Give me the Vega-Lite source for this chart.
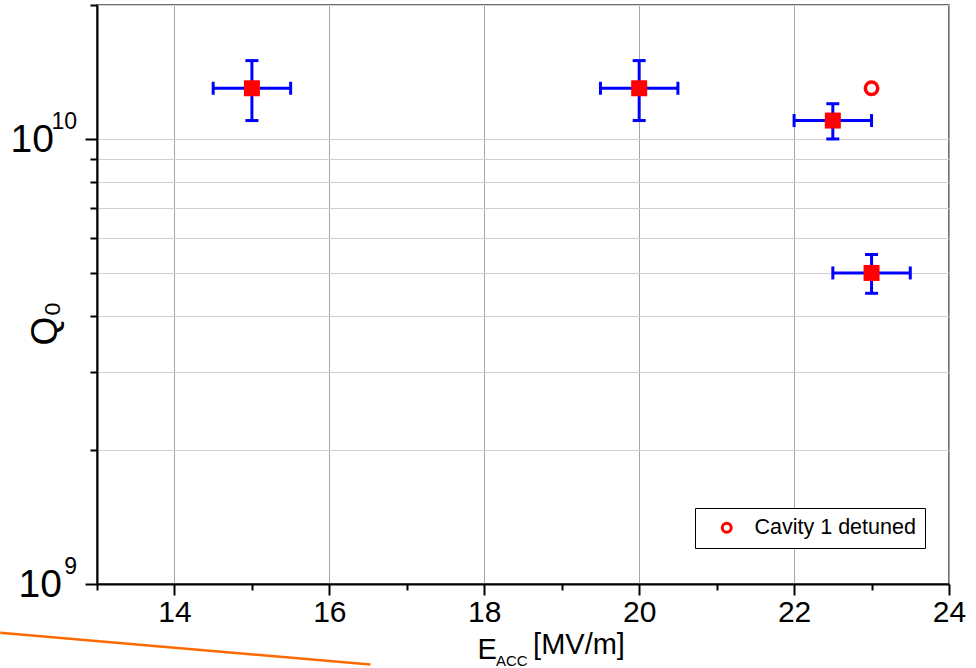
{
  "$schema": "https://vega.github.io/schema/vega-lite/v6.json",
  "autosize": {"type": "none"},
  "padding": {"left": 97, "top": 5, "right": 27, "bottom": 84},
  "width": 852,
  "height": 579,
  "background": "white",
  "config": {
    "font": "Liberation Sans",
    "view": {"stroke": "#404040", "strokeWidth": 1.5}
  },
  "resolve": {"axis": {"x": "independent", "y": "independent"}},
  "data": {
    "values": [
      {"E": 15, "Q": 1.3e10, "E_lo": 14.5, "E_hi": 15.5, "Q_lo": 1.1e10, "Q_hi": 1.5e10},
      {"E": 20, "Q": 1.3e10, "E_lo": 19.5, "E_hi": 20.5, "Q_lo": 1.1e10, "Q_hi": 1.5e10},
      {"E": 22.5, "Q": 1.1e10, "E_lo": 22, "E_hi": 23, "Q_lo": 1.0e10, "Q_hi": 1.2e10},
      {"E": 23, "Q": 5.0e9, "E_lo": 22.5, "E_hi": 23.5, "Q_lo": 4.5e9, "Q_hi": 5.5e9}
    ]
  },
  "layer": [
    {
      "mark": {"type": "square", "size": 10, "opacity": 0},
      "encoding": {
        "x": {
          "field": "E", "type": "quantitative",
          "scale": {"domain": [13, 24], "nice": false, "zero": false},
          "axis": {
            "orient": "bottom",
            "title": null,
            "values": [13, 15, 17, 19, 21, 23],
            "labels": false, "domain": false, "grid": false,
            "tickColor": "black", "tickWidth": 2, "tickSize": 6
          }
        },
        "y": {
          "field": "Q", "type": "quantitative",
          "scale": {"type": "log", "domain": [1e9, 2e10], "nice": false},
          "axis": {
            "orient": "left",
            "title": null,
            "values": [2e9, 3e9, 4e9, 5e9, 6e9, 7e9, 8e9, 9e9, 2e10],
            "labels": false, "domain": false,
            "grid": true, "gridColor": "#d0d0d0", "gridWidth": 1,
            "tickColor": "black", "tickWidth": 2, "tickSize": 7
          }
        }
      }
    },
    {
      "mark": {"type": "square", "size": 10, "opacity": 0},
      "encoding": {
        "x": {
          "field": "E", "type": "quantitative",
          "axis": {
            "orient": "bottom",
            "title": "E",
            "values": [14, 16, 18, 20, 22, 24],
            "labelFontSize": 30, "labelColor": "black", "labelPadding": 2,
            "labelFlush": false, "labelOverlap": false,
            "tickColor": "black", "tickWidth": 2, "tickSize": 11,
            "domainColor": "black", "domainWidth": 2,
            "grid": true, "gridColor": "#a6a6a6", "gridWidth": 1,
            "titleFontSize": 29, "titleFontWeight": "normal", "titleColor": "black",
            "titleAlign": "left", "titleBaseline": "alphabetic", "titleX": 380, "titleY": 74
          }
        },
        "y": {
          "field": "Q", "type": "quantitative",
          "axis": {
            "orient": "left",
            "title": "Q\u2080",
            "values": [1e9, 1e10],
            "labels": false,
            "tickColor": "black", "tickWidth": 2, "tickSize": 12,
            "domainColor": "black", "domainWidth": 2,
            "grid": true, "gridColor": "#d0d0d0", "gridWidth": 1,
            "titleFontSize": 37, "titleFontWeight": "normal", "titleColor": "black",
            "titleAngle": -90, "titleAlign": "center", "titleBaseline": "middle",
            "titleX": -52, "titleY": 318
          }
        }
      }
    },
    {
      "data": {"values": [{"E": 13, "Q": 1e10, "t": "10"}]},
      "mark": {"type": "text", "fontSize": 39, "align": "right", "baseline": "middle", "dx": -43, "dy": 1, "color": "black", "clip": false},
      "encoding": {
        "x": {"field": "E", "type": "quantitative", "axis": null},
        "y": {"field": "Q", "type": "quantitative", "axis": null},
        "text": {"field": "t"}
      }
    },
    {
      "data": {"values": [{"E": 13, "Q": 1e9, "t": "10"}]},
      "mark": {"type": "text", "fontSize": 39, "align": "right", "baseline": "middle", "dx": -35, "dy": 1, "color": "black", "clip": false},
      "encoding": {
        "x": {"field": "E", "type": "quantitative", "axis": null},
        "y": {"field": "Q", "type": "quantitative", "axis": null},
        "text": {"field": "t"}
      }
    },
    {
      "data": {"values": [{"E": 13, "Q": 1e10, "t": "10"}, {"E": 13, "Q": 1e9, "t": "9"}]},
      "mark": {"type": "text", "fontSize": 23, "align": "right", "baseline": "middle", "dx": -20, "dy": -17, "color": "black", "clip": false},
      "encoding": {
        "x": {"field": "E", "type": "quantitative", "axis": null},
        "y": {"field": "Q", "type": "quantitative", "axis": null},
        "text": {"field": "t"}
      }
    },
    {
      "data": {"values": [{"E": 11.75, "Q": 7.77e8}, {"E": 16.53, "Q": 6.59e8}]},
      "mark": {"type": "line", "color": "#ff6a00", "strokeWidth": 2.5, "clip": false},
      "encoding": {
        "x": {"field": "E", "type": "quantitative", "axis": null},
        "y": {"field": "Q", "type": "quantitative", "axis": null}
      }
    },
    {
      "data": {"values": [{"E": 18.15, "Q": 6.53e8, "txt": "ACC"}]},
      "mark": {"type": "text", "fontSize": 15, "align": "left", "baseline": "alphabetic", "color": "black", "clip": false},
      "encoding": {
        "x": {"field": "E", "type": "quantitative", "axis": null},
        "y": {"field": "Q", "type": "quantitative", "axis": null},
        "text": {"field": "txt"}
      }
    },
    {
      "data": {"values": [{"E": 18.63, "Q": 6.95e8, "txt": "[MV/m]"}]},
      "mark": {"type": "text", "fontSize": 29, "align": "left", "baseline": "alphabetic", "color": "black", "clip": false},
      "encoding": {
        "x": {"field": "E", "type": "quantitative", "axis": null},
        "y": {"field": "Q", "type": "quantitative", "axis": null},
        "text": {"field": "txt"}
      }
    },
    {
      "mark": {"type": "rule", "color": "#0000ff", "strokeWidth": 3},
      "encoding": {
        "x": {"field": "E_lo", "type": "quantitative", "axis": null},
        "x2": {"field": "E_hi"},
        "y": {"field": "Q", "type": "quantitative", "axis": null}
      }
    },
    {
      "mark": {"type": "rule", "color": "#0000ff", "strokeWidth": 3},
      "encoding": {
        "x": {"field": "E", "type": "quantitative", "axis": null},
        "y": {"field": "Q_lo", "type": "quantitative", "axis": null},
        "y2": {"field": "Q_hi"}
      }
    },
    {
      "mark": {"type": "tick", "orient": "vertical", "color": "#0000ff", "size": 13, "thickness": 3, "opacity": 1},
      "encoding": {
        "x": {"field": "E_lo", "type": "quantitative", "axis": null},
        "y": {"field": "Q", "type": "quantitative", "axis": null}
      }
    },
    {
      "mark": {"type": "tick", "orient": "vertical", "color": "#0000ff", "size": 13, "thickness": 3, "opacity": 1},
      "encoding": {
        "x": {"field": "E_hi", "type": "quantitative", "axis": null},
        "y": {"field": "Q", "type": "quantitative", "axis": null}
      }
    },
    {
      "mark": {"type": "tick", "orient": "horizontal", "color": "#0000ff", "size": 13, "thickness": 3, "opacity": 1},
      "encoding": {
        "x": {"field": "E", "type": "quantitative", "axis": null},
        "y": {"field": "Q_lo", "type": "quantitative", "axis": null}
      }
    },
    {
      "mark": {"type": "tick", "orient": "horizontal", "color": "#0000ff", "size": 13, "thickness": 3, "opacity": 1},
      "encoding": {
        "x": {"field": "E", "type": "quantitative", "axis": null},
        "y": {"field": "Q_hi", "type": "quantitative", "axis": null}
      }
    },
    {
      "mark": {"type": "square", "filled": true, "color": "red", "size": 256, "opacity": 1},
      "encoding": {
        "x": {"field": "E", "type": "quantitative", "axis": null},
        "y": {"field": "Q", "type": "quantitative", "axis": null}
      }
    },
    {
      "data": {"values": [{"E": 23, "Q": 1.3e10, "series": "Cavity 1 detuned"}]},
      "mark": {"type": "point", "shape": "circle", "filled": false, "strokeWidth": 3.5, "size": 154, "opacity": 1},
      "encoding": {
        "x": {"field": "E", "type": "quantitative", "axis": null},
        "y": {"field": "Q", "type": "quantitative", "axis": null},
        "color": {
          "field": "series", "type": "nominal",
          "scale": {"range": ["red"]},
          "legend": {
            "title": null, "orient": "none", "legendX": 598, "legendY": 503,
            "strokeColor": "black", "fillColor": "white",
            "padding": 9, "symbolOffset": 12, "labelOffset": 17,
            "labelFontSize": 21.5, "labelColor": "black", "labelFont": "Liberation Sans", "labelLimit": 0,
            "symbolType": "circle", "symbolSize": 80, "symbolStrokeWidth": 3,
            "symbolStrokeColor": "red", "symbolFillColor": "white"
          }
        }
      }
    }
  ]
}
